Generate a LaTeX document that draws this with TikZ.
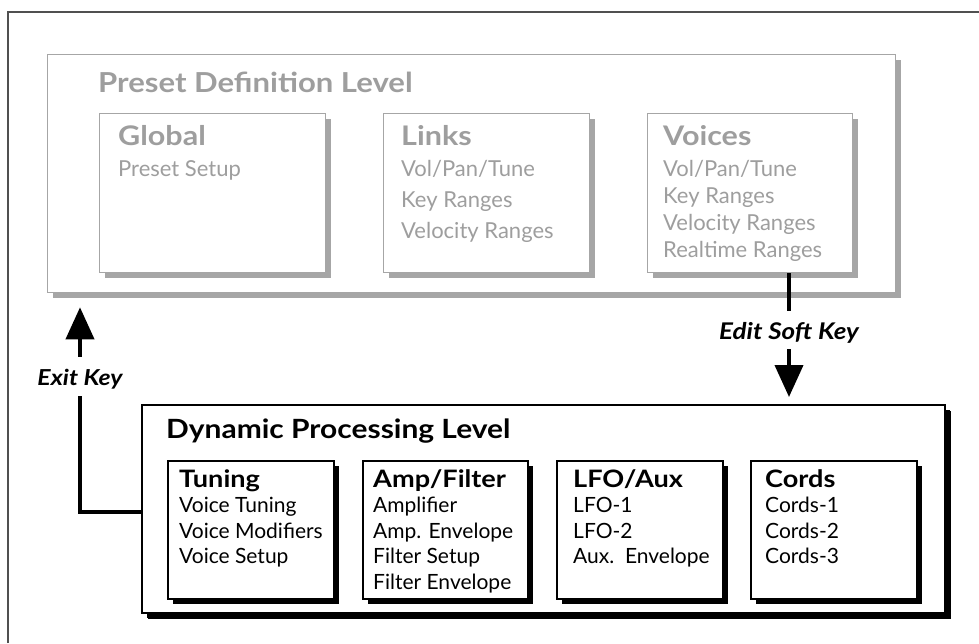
\documentclass[tikz,border=0pt]{standalone}
\usepackage{fontspec}
\setmainfont{Lato}
\newfontfamily\widebf{Lato}[FakeStretch=1.13]
\usetikzlibrary{shadows,arrows.meta}
\definecolor{lgray}{HTML}{A6A6A6}
\definecolor{tgray}{HTML}{9E9E9E}
\definecolor{framec}{HTML}{505050}
\newcommand{\ttl}[2]{{\widebf\bfseries\fontsize{#1}{#1}\selectfont #2}}
\begin{document}
\begin{tikzpicture}[x=1pt,y=-1pt,
  graybox/.style={draw=lgray, line width=1.3pt, fill=white, inner sep=0pt, anchor=north west,
    drop shadow={shadow xshift=5pt, shadow yshift=-5pt, fill=lgray, opacity=1}},
  blackbox/.style={draw=black, line width=1.8pt, fill=white, inner sep=0pt, anchor=north west,
    drop shadow={shadow xshift=5pt, shadow yshift=-5pt, fill=black, opacity=1}},
  txt/.style={anchor=base west, inner sep=0pt},
  conn/.style={line width=4pt},
  lbl/.style={anchor=base, inner sep=0pt, text height=28pt, font=\widebf\fontsize{22}{26}\selectfont\bfseries\itshape},
  tip/.style={-{Triangle[length=32pt,width=28pt]}}
]
\useasboundingbox (0,0) rectangle (979,643);
\draw[framec, line width=1.5pt] (8,643) -- (8,12) -- (979,12);

% Preset definition level
\node[graybox, minimum width=848pt, minimum height=238pt] (preset) at (47,54) {};
\node[txt, text=tgray] (ptitle) at (98,92) {\ttl{27.5}{Preset Definition Level}};
\node[graybox, minimum width=226pt, minimum height=159pt] (global) at (99,113) {};
\node[graybox, minimum width=206pt, minimum height=159pt] (links) at (383,113) {};
\node[graybox, minimum width=205pt, minimum height=159pt] (voices) at (647,113) {};
\node[txt, text=tgray, font=\fontsize{22}{27}\selectfont] (gtxt) at (118,145)
  {\begin{tabular}[t]{@{}l@{}}\ttl{27}{Global}\\[4pt] Preset Setup\end{tabular}};
\node[txt, text=tgray, font=\fontsize{22}{31}\selectfont] (ltxt) at (401,145)
  {\begin{tabular}[t]{@{}l@{}}\ttl{27}{Links}\\ Vol/Pan/Tune\\ Key Ranges\\ Velocity Ranges\end{tabular}};
\node[txt, text=tgray, font=\fontsize{22}{27}\selectfont] (vtxt) at (663,145)
  {\begin{tabular}[t]{@{}l@{}}\ttl{27}{Voices}\\[4pt] Vol/Pan/Tune\\ Key Ranges\\ Velocity Ranges\\ Realtime Ranges\end{tabular}};

% Dynamic processing level
\node[blackbox, minimum width=803pt, minimum height=208pt,
  drop shadow={shadow xshift=6pt, shadow yshift=-6pt, fill=black, opacity=1}] (dyn) at (141,404) {};
\node[txt] (dtitle) at (166,438) {\ttl{26.5}{Dynamic Processing Level}};
\node[blackbox, minimum width=166pt, minimum height=138pt] (tuning) at (167,460) {};
\node[blackbox, minimum width=165pt, minimum height=138pt] (amp) at (362,460) {};
\node[blackbox, minimum width=166pt, minimum height=138pt] (lfo) at (556,460) {};
\node[blackbox, minimum width=166pt, minimum height=138pt] (cords) at (750,460) {};
\node[txt, font=\fontsize{21}{25.5}\selectfont] (ttxt) at (179,487)
  {\begin{tabular}[t]{@{}l@{}}\ttl{24}{Tuning}\\ Voice Tuning\\ Voice Modifiers\\ Voice Setup\end{tabular}};
\node[txt, font=\fontsize{21}{25.5}\selectfont] (atxt) at (373,487)
  {\begin{tabular}[t]{@{}l@{}}\ttl{24}{Amp/Filter}\\ Amplifier\\ Amp. Envelope\\ Filter Setup\\ Filter Envelope\end{tabular}};
\node[txt, font=\fontsize{21}{25.5}\selectfont] (ftxt) at (573,487)
  {\begin{tabular}[t]{@{}l@{}}\ttl{24}{LFO/Aux}\\ LFO-1\\ LFO-2\\ Aux.\ \ Envelope\end{tabular}};
\node[txt, font=\fontsize{21}{25.5}\selectfont] (ctxt) at (765,487)
  {\begin{tabular}[t]{@{}l@{}}\ttl{24}{Cords}\\ Cords-1\\ Cords-2\\ Cords-3\end{tabular}};

% Connectors
\node[lbl, text depth=10pt, font=\widebf\fontsize{23}{26}\selectfont\bfseries\itshape] (editlbl) at (789,339) {Edit Soft Key};
\draw[conn] (voices.south -| editlbl.base) -- (editlbl.north);
\draw[conn, tip, shorten >=7pt] (editlbl.south) -- (dyn.north -| editlbl.base);

\node[lbl, text depth=11pt] (exitlbl) at (80,385) {Exit Key};
\draw[conn] ([yshift=-3pt]dyn.west) -| (exitlbl.south);
\draw[conn, tip, shorten >=14pt] (exitlbl.north) -- (preset.south -| exitlbl.base);
\end{tikzpicture}
\end{document}
